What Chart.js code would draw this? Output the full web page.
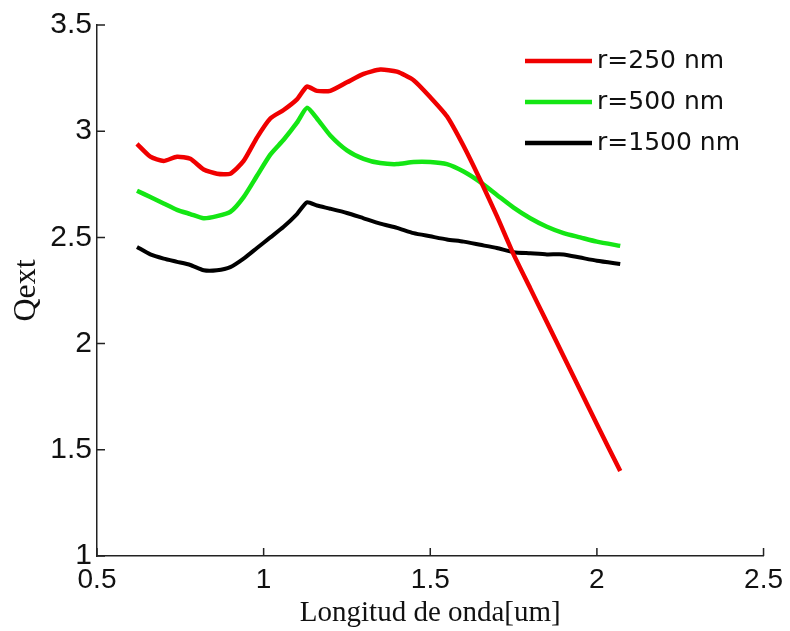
<!DOCTYPE html>
<html>
<head>
<meta charset="utf-8">
<script src="https://cdn.jsdelivr.net/npm/chart.js@4"></script>
<style>
  html, body { margin: 0; padding: 0; background: #fff; }
  #wrap { width: 790px; height: 631px; }
</style>
</head>
<body>
<div id="wrap"><canvas id="qextChart"></canvas></div>
<script>
// Longitud de onda [um]
const wavelengths = [0.62, 0.66, 0.70, 0.74, 0.78, 0.82, 0.86, 0.90, 0.94, 0.98, 1.02, 1.06, 1.10, 1.13, 1.16, 1.20,
    1.25, 1.30, 1.35, 1.40, 1.45, 1.50, 1.55, 1.60, 1.65, 1.70, 1.75, 1.80, 1.85, 1.90, 1.95, 2.00, 2.07];

const qext250 = [2.94, 2.88, 2.86, 2.88, 2.87, 2.82, 2.80, 2.80, 2.86, 2.97, 3.06, 3.10, 3.15, 3.21, 3.19, 3.19,
    3.23, 3.27, 3.29, 3.28, 3.24, 3.16, 3.07, 2.93, 2.77, 2.60, 2.42, 2.26, 2.10, 1.94, 1.78, 1.62, 1.40];

const qext500 = [2.72, 2.69, 2.66, 2.63, 2.61, 2.59, 2.60, 2.62, 2.69, 2.79, 2.89, 2.96, 3.04, 3.11, 3.06, 2.98,
    2.91, 2.87, 2.85, 2.845, 2.855, 2.855, 2.845, 2.81, 2.76, 2.70, 2.64, 2.59, 2.55, 2.52, 2.50, 2.48, 2.46];

const qext1500 = [2.455, 2.42, 2.40, 2.385, 2.37, 2.345, 2.345, 2.36, 2.40, 2.45, 2.50, 2.55, 2.61, 2.665, 2.65, 2.635,
    2.615, 2.59, 2.565, 2.545, 2.52, 2.505, 2.49, 2.48, 2.465, 2.45, 2.43, 2.425, 2.42, 2.42, 2.405, 2.39, 2.375];

const seriesLabels = ['r=250 nm', 'r=500 nm', 'r=1500 nm'];
const xTickLabels = ['0.5', '1', '1.5', '2', '2.5'];
const yTickLabels = ['1', '1.5', '2', '2.5', '3', '3.5'];

function toPoints(values) {
    return values.map((v, i) => ({ x: wavelengths[i], y: v }));
}

// ticks pointing into the plot, like the matlab figure
const innerTicks = {
    id: 'innerTicks',
    afterDraw(chart) {
        const ctx = chart.ctx;
        const area = chart.chartArea;
        const x = chart.scales.x;
        const y = chart.scales.y;
        ctx.save();
        ctx.strokeStyle = '#222';
        ctx.lineWidth = 1.5;
        ctx.beginPath();
        x.ticks.forEach(t => {
            const px = x.getPixelForValue(t.value);
            ctx.moveTo(px, area.bottom);
            ctx.lineTo(px, area.bottom - 8);
        });
        y.ticks.forEach(t => {
            const py = y.getPixelForValue(t.value);
            ctx.moveTo(area.left, py);
            ctx.lineTo(area.left + 8, py);
        });
        ctx.stroke();
        ctx.restore();
    }
};

// legend box inside the plot (top right)
const insideLegend = {
    id: 'insideLegend',
    afterDraw(chart) {
        const ctx = chart.ctx;
        ctx.save();
        ctx.font = '25px "DejaVu Sans"';
        ctx.textBaseline = 'middle';
        ctx.fillStyle = '#111';
        chart.data.datasets.forEach((ds, i) => {
            const rowY = 61 + i * 41;
            ctx.strokeStyle = ds.borderColor;
            ctx.lineWidth = 4.5;
            ctx.beginPath();
            ctx.moveTo(525, rowY);
            ctx.lineTo(592, rowY);
            ctx.stroke();
            ctx.fillText(ds.label, 597, rowY);
        });
        ctx.restore();
    }
};

const ctx = document.getElementById('qextChart');
new Chart(ctx, {
    type: 'line',
    data: {
        datasets: [
            {
                label: seriesLabels[0],
                data: toPoints(qext250),
                borderColor: 'rgb(240, 0, 0)',
                borderWidth: 4.5,
                pointRadius: 0,
                tension: 0.2
            },
            {
                label: seriesLabels[1],
                data: toPoints(qext500),
                borderColor: 'rgb(20, 230, 20)',
                borderWidth: 4.5,
                pointRadius: 0,
                tension: 0.2
            },
            {
                label: seriesLabels[2],
                data: toPoints(qext1500),
                borderColor: 'rgb(0, 0, 0)',
                borderWidth: 4,
                pointRadius: 0,
                tension: 0.2
            }
        ]
    },
    options: {
        responsive: true,
        maintainAspectRatio: false,
        animation: false,
        layout: {
            padding: { top: 25, right: 26, left: 0, bottom: 0 }
        },
        plugins: {
            legend: { display: false },
            tooltip: { enabled: false }
        },
        scales: {
            x: {
                type: 'linear',
                min: 0.5,
                max: 2.5,
                afterFit: function(scale) { scale.height = 75; },
                border: { color: '#222', width: 1.5 },
                grid: { drawOnChartArea: false, drawTicks: false },
                ticks: {
                    stepSize: 0.5,
                    padding: 7,
                    color: '#111',
                    font: { family: '"Liberation Sans", Arial', size: 28 },
                    callback: function(value) {
                        const i = Math.round((value - 0.5) / 0.5);
                        return xTickLabels[i];
                    }
                },
                title: {
                    display: true,
                    text: 'Longitud de onda[um]',
                    color: '#111',
                    padding: 0,
                    font: { family: '"Liberation Serif", "Times New Roman"', size: 29 }
                }
            },
            y: {
                min: 1,
                max: 3.5,
                afterFit: function(scale) { scale.width = 97; },
                border: { color: '#222', width: 1.5 },
                grid: { drawOnChartArea: false, drawTicks: false },
                ticks: {
                    stepSize: 0.5,
                    padding: 5,
                    color: '#111',
                    font: { family: '"Liberation Sans", Arial', size: 30 },
                    callback: function(value) {
                        const i = Math.round((value - 1) / 0.5);
                        return yTickLabels[i];
                    }
                },
                title: {
                    display: true,
                    text: 'Qext',
                    color: '#111',
                    padding: { top: 7, bottom: 0 },
                    font: { family: '"Liberation Serif", "Times New Roman"', size: 32 }
                }
            }
        }
    },
    plugins: [innerTicks, insideLegend]
});
</script>
</body>
</html>
